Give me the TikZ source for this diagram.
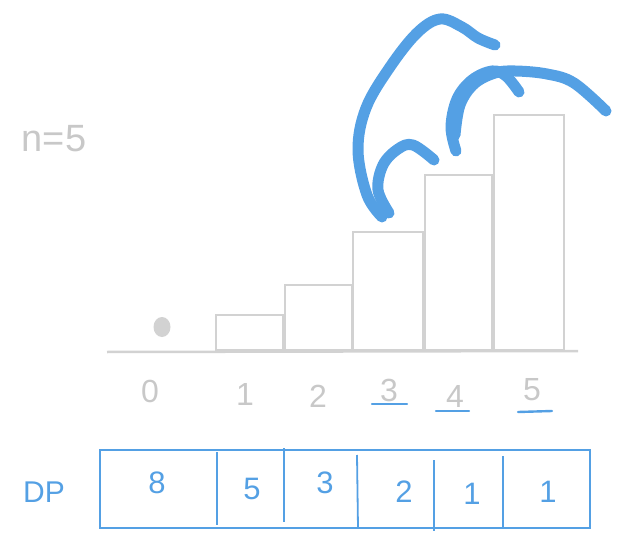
\documentclass[tikz,border=0pt]{standalone}
\usepackage{fontspec}
\setmainfont{Liberation Sans}
\definecolor{sketchblue}{RGB}{84,160,228}
\definecolor{bargray}{RGB}{210,210,210}
\definecolor{txtgray}{RGB}{200,200,200}
\tikzset{
  bar/.style={draw=bargray, line width=2pt},
  axislbl/.style={text=txtgray, font=\fontsize{32}{33}\selectfont, inner sep=0pt},
  uline/.style={draw=sketchblue, line width=2.4pt, line cap=round},
  cell/.style={draw=sketchblue, line width=1.8pt},
  dpnum/.style={text=sketchblue, font=\fontsize{31}{32}\selectfont, inner sep=0pt},
  jump/.style={draw=sketchblue, line width=11pt, line cap=round, line join=round},
}
\begin{document}
\begin{tikzpicture}[x=1pt,y=-1pt]
\useasboundingbox (0,0) rectangle (626,553);

% title
\node[text=txtgray, font=\fontsize{38}{39}\selectfont, inner sep=0pt] (n) at (54,139) {n=5};

% bars
\draw[bar] (216,350) rectangle (283,315);
\draw[bar] (285,350) rectangle (352,285);
\draw[bar] (353,350) rectangle (423,232);
\draw[bar] (425,350) rectangle (492,175);
\draw[bar] (494,350) rectangle (564,115);
\fill[bargray] (162,327) ellipse (8.5pt and 10pt);
\draw[draw=bargray, line width=2.5pt] (107,352) -- (578,351);

% axis labels
\node[axislbl] (l0) at (150,391) {0};
\node[axislbl] (l1) at (245,394) {1};
\node[axislbl] (l2) at (318,396) {2};
\node[axislbl] (l3) at (389,390) {3};
\node[axislbl] (l4) at (455,396) {4};
\node[axislbl] (l5) at (532,390) {5};
\draw[uline] (372,404) -- (407,404);
\draw[uline] (436,411) -- (469,411);
\draw[uline] (518,412) -- (552,411);

% jumps
\draw[jump] plot[smooth, tension=0.6] coordinates {(389,213) (378,190) (383,165) (398,149) (413,145) (434,160)};
\draw[jump] plot[smooth, tension=0.6] coordinates {(382,217) (367,195) (358,150) (366,108) (390,67) (417,33) (440,19) (462,27) (478,38) (495,45)};
\draw[jump] plot[smooth, tension=0.6] coordinates {(456,151) (451,127) (457,99) (472,80) (492,71) (506,76) (519,92)};
\draw[jump] plot[smooth, tension=0.6] coordinates {(455,135) (460,105) (474,84) (495,73) (515,71) (547,74) (574,83) (606,111)};

% DP table
\node[text=sketchblue, font=\fontsize{30}{31}\selectfont, inner sep=0pt] (dp) at (44,492) {DP};
\draw[cell] (100,450) rectangle (590,528);
\draw[cell] (217,452) -- (217,525);
\draw[cell] (284,448) -- (284,522);
\draw[cell] (357,455) -- (358,528);
\draw[cell] (434,460) -- (434,531);
\draw[cell] (503,456) -- (503,528);
\node[dpnum] (c0) at (157,483) {8};
\node[dpnum] (c1) at (252,489) {5};
\node[dpnum] (c2) at (325,483) {3};
\node[dpnum] (c3) at (404,492) {2};
\node[dpnum] (c4) at (472,494) {1};
\node[dpnum] (c5) at (548,492) {1};
\end{tikzpicture}
\end{document}
